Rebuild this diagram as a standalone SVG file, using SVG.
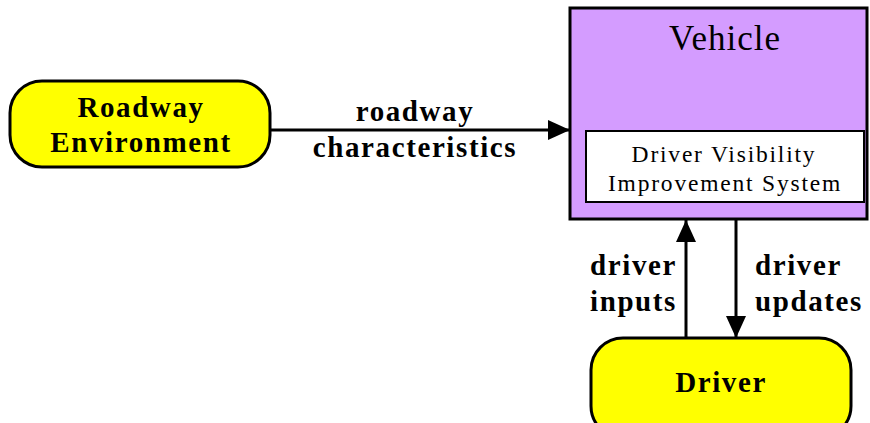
<svg xmlns="http://www.w3.org/2000/svg" width="870" height="423" viewBox="0 0 870 423">
<style>
.term{fill:#FFFF00;stroke:#000;stroke-width:3}
.bt{font-family:"Liberation Serif","Times New Roman",serif;font-weight:bold;font-size:29px;letter-spacing:1.6px;fill:#000;text-anchor:middle}
.lbl{font-family:"Liberation Serif","Times New Roman",serif;font-weight:bold;font-size:29px;letter-spacing:1.6px;fill:#000}
.nt{font-family:"Liberation Serif","Times New Roman",serif;fill:#000;text-anchor:middle}
.conn{stroke:#000;stroke-width:3;fill:none}
</style>
<defs>
<marker id="a2" viewBox="0 0 22 20" refX="22" refY="10" markerWidth="22" markerHeight="20" markerUnits="userSpaceOnUse" orient="auto">
<path d="M0,0 L22,10 L0,20 z" fill="#000"/>
</marker>
</defs>
<g id="roadway">
<rect class="term" x="10" y="81" width="260" height="86" rx="32" ry="32"/>
<text class="bt" x="141" y="117">Roadway</text>
<text class="bt" x="141" y="152">Environment</text>
</g>
<g id="vehicle">
<rect x="570" y="8" width="297" height="211" fill="#D49CFF" stroke="#000" stroke-width="3"/>
<text class="nt" x="725" y="50" font-size="35" letter-spacing="1">Vehicle</text>
</g>
<g id="dvis">
<rect x="586" y="131" width="278" height="71" fill="#FFFFFF" stroke="#000" stroke-width="2"/>
<text class="nt" x="724" y="162" font-size="23.5" letter-spacing="1.8">Driver Visibility</text>
<text class="nt" x="725" y="191" font-size="23.5" letter-spacing="1.8">Improvement System</text>
</g>
<g id="driver">
<rect class="term" x="591" y="338" width="260" height="100" rx="32" ry="32"/>
<text class="bt" x="721" y="392">Driver</text>
</g>
<g id="connectors">
<line class="conn" x1="270" y1="130" x2="570" y2="130" marker-end="url(#a2)"/>
<line class="conn" x1="686" y1="338" x2="686" y2="220" marker-end="url(#a2)"/>
<line class="conn" x1="736" y1="219" x2="736" y2="338" marker-end="url(#a2)"/>
<text class="bt" x="415" y="121">roadway</text>
<text class="bt" x="415" y="157">characteristics</text>
<text class="lbl" x="677" y="275" text-anchor="end">driver</text>
<text class="lbl" x="677" y="311" text-anchor="end">inputs</text>
<text class="lbl" x="755" y="275">driver</text>
<text class="lbl" x="755" y="311">updates</text>
</g>
</svg>
